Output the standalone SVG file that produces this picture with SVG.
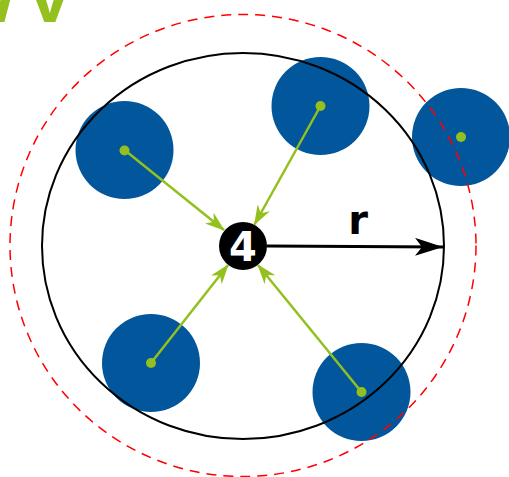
<svg xmlns="http://www.w3.org/2000/svg" width="509" height="477" viewBox="0 0 509 477">
<style>
.blob{fill:#02569b}
.dot{fill:#93c01f}
.garrow{stroke:#93c01f;stroke-width:2.5;fill:none;marker-end:url(#gh)}
.lbl{font-family:"DejaVu Sans",sans-serif;font-weight:bold;font-size:40px}
</style>
<defs>
<marker id="gh" markerUnits="userSpaceOnUse" viewBox="0 0 20 14" refX="19" refY="7" markerWidth="20" markerHeight="14" orient="auto">
<path d="M0,0 L20,7 L0,14 L6,7 Z" fill="#93c01f"/>
</marker>
<marker id="bh" markerUnits="userSpaceOnUse" viewBox="0 0 28 18" refX="28" refY="9" markerWidth="28" markerHeight="18" orient="auto">
<path d="M0,0 L28,9 L0,18 L7,9 Z" fill="#000"/>
</marker>
</defs>
<rect width="509" height="477" fill="#fff"/>
<text x="-53" y="22" fill="#93c01f" style="font-family:'Liberation Sans',sans-serif;font-weight:bold;font-size:75px;font-kerning:none">W<tspan dx="7">V</tspan></text>
<g id="n1"><circle class="blob" cx="124.5" cy="150" r="49"/></g>
<g id="n2"><circle class="blob" cx="320.5" cy="106" r="49"/></g>
<g id="n3"><circle class="blob" cx="461" cy="137" r="49"/></g>
<g id="n4"><circle class="blob" cx="151" cy="363" r="49"/></g>
<g id="n5"><circle class="blob" cx="361.5" cy="392" r="49"/></g>
<g id="circles">
<ellipse cx="243" cy="246" rx="201" ry="193" fill="none" stroke="#000" stroke-width="2"/>
<ellipse cx="243" cy="245.5" rx="233" ry="231" fill="none" stroke="#f00" stroke-width="1.5" stroke-dasharray="10,7"/>
</g>
<g id="connectors">
<line class="garrow" x1="124.5" y1="150" x2="224" y2="230"/>
<line class="garrow" x1="320.5" y1="106" x2="254.5" y2="224.5"/>
<line class="garrow" x1="151" y1="363" x2="228" y2="265"/>
<line class="garrow" x1="361.5" y1="392" x2="258" y2="265"/>
<line x1="267" y1="246" x2="443" y2="247" stroke="#000" stroke-width="3" marker-end="url(#bh)"/>
</g>
<g id="dots">
<circle class="dot" cx="124.5" cy="150.5" r="5"/>
<circle class="dot" cx="320.5" cy="106" r="5"/>
<circle class="dot" cx="461" cy="137" r="5"/>
<circle class="dot" cx="151" cy="363" r="5"/>
<circle class="dot" cx="361.5" cy="392" r="5"/>
</g>
<g id="center">
<circle cx="243" cy="246" r="24" fill="#000"/>
<text class="lbl" x="243" y="261" text-anchor="middle" fill="#fff">4</text>
</g>
<text class="lbl" x="358" y="234" text-anchor="middle" fill="#000">r</text>
</svg>
